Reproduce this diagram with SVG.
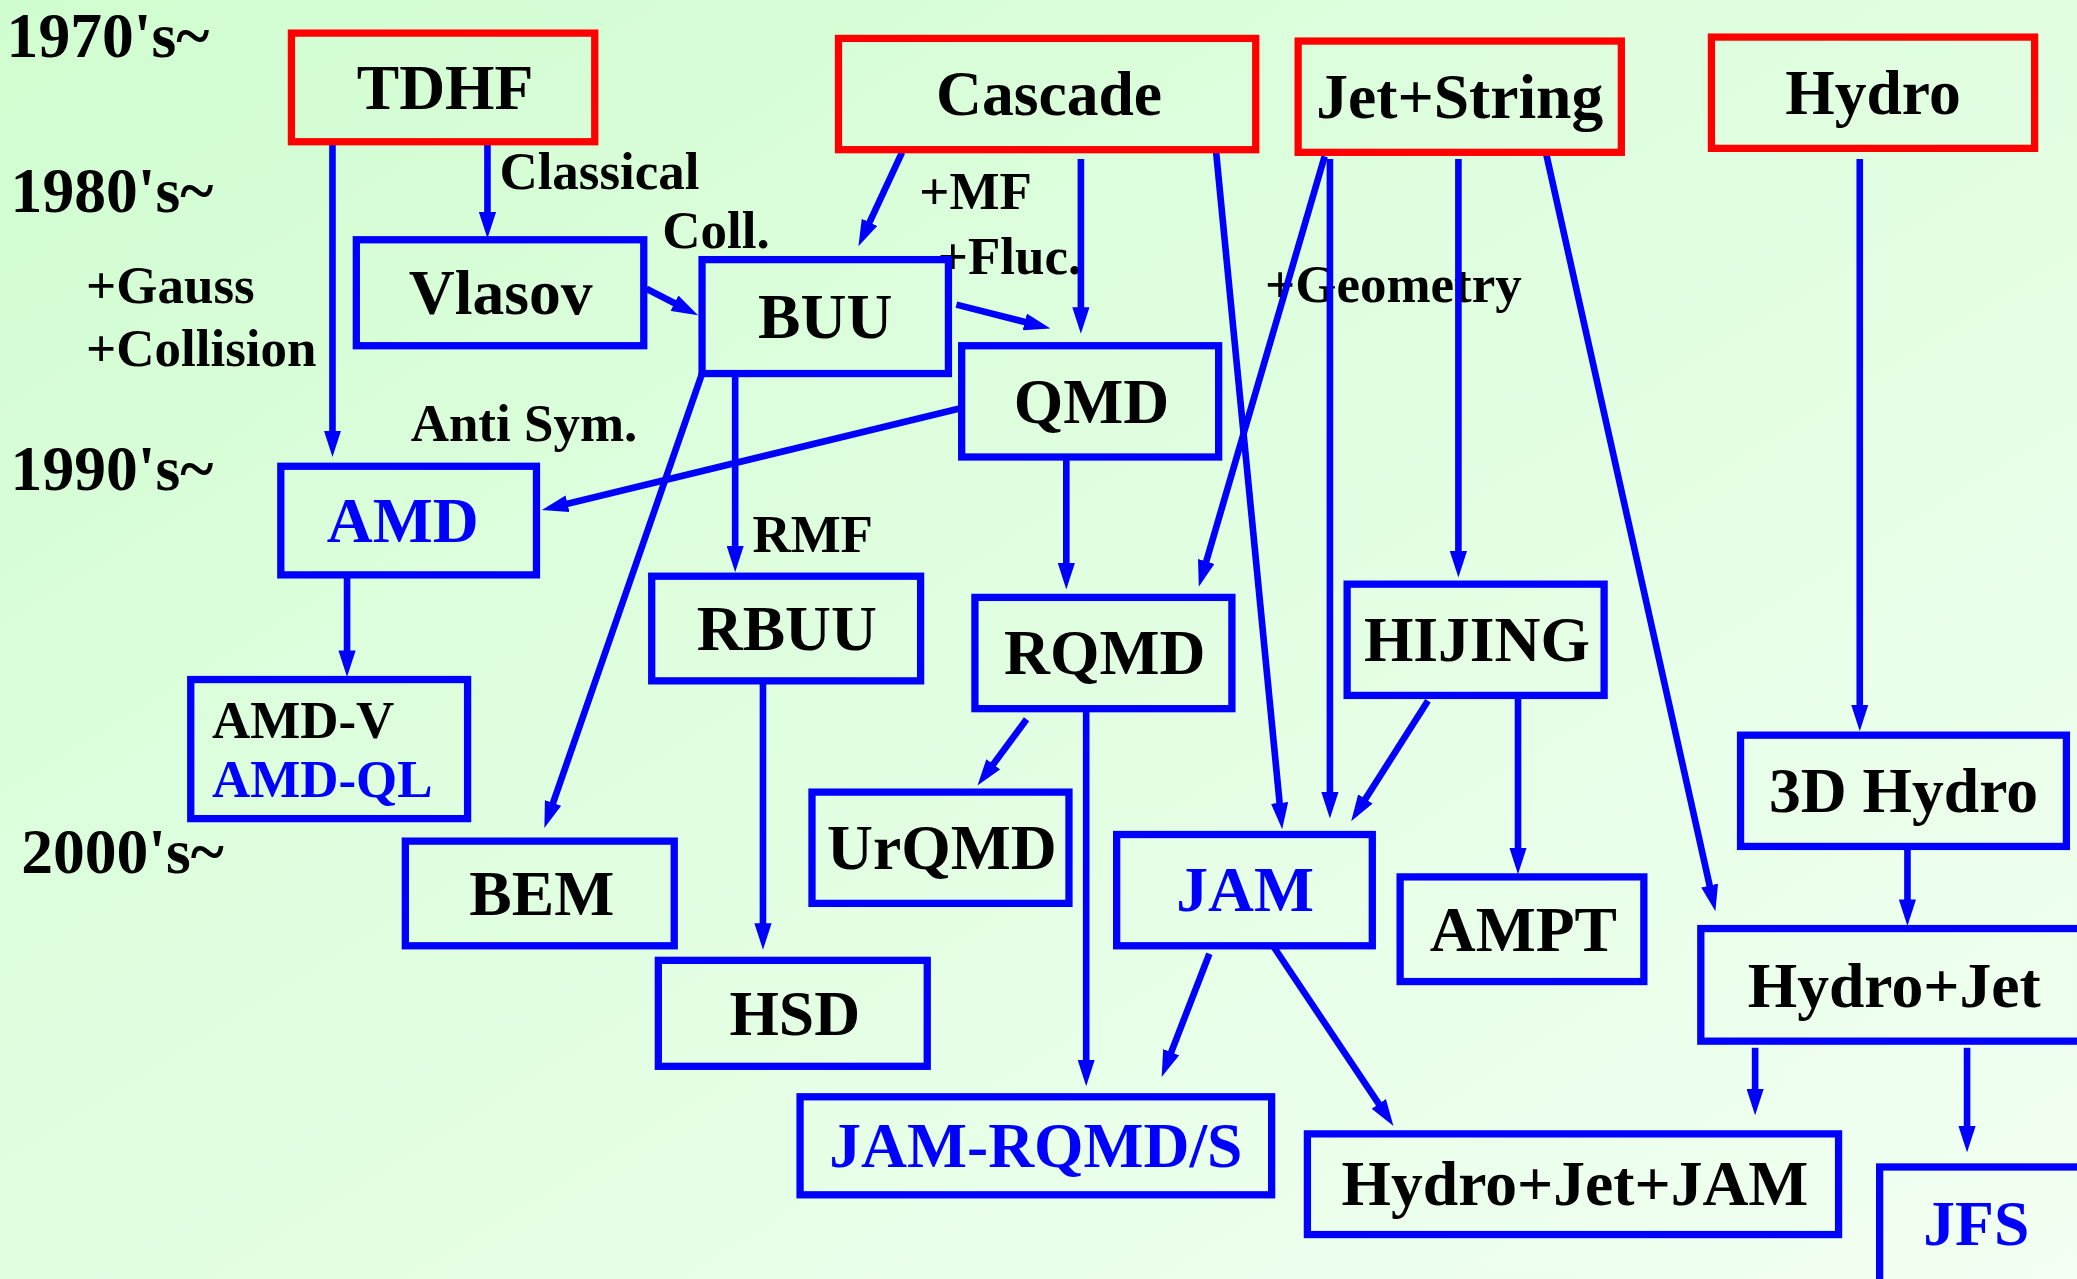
<svg xmlns="http://www.w3.org/2000/svg" width="2077" height="1279" viewBox="0 0 2077 1279">
<defs>
<linearGradient id="bg" x1="0" y1="0" x2="1" y2="1">
<stop offset="0" stop-color="#d0fdd0"/>
<stop offset="1" stop-color="#f2fff2"/>
</linearGradient>
<marker id="ah" markerUnits="userSpaceOnUse" markerWidth="20" markerHeight="13" refX="8" refY="6.5" orient="auto" viewBox="0 0 20 13">
<path d="M0,0 L20,6.5 L0,13 z" fill="#0000ff"/>
</marker>
<style>
.nr{fill:none;stroke:#ff0000;stroke-width:5.5}
.nb{fill:none;stroke:#0000ff;stroke-width:5.5}
.t{font-family:"Liberation Serif","Times New Roman",serif;font-weight:bold;font-size:48px;text-anchor:middle;fill:#000000}
.tb{fill:#0000ff}
.lab{font-size:40px;text-anchor:start}
.yr{font-size:48px;text-anchor:start}
.c{stroke:#0000ff;stroke-width:5;fill:none;marker-end:url(#ah)}
</style>
</defs>
<rect x="0" y="0" width="2077" height="1279" fill="url(#bg)"/>
<g transform="scale(1.32462)">
<g id="years">
<text class="t yr" x="5" y="43">1970's~</text>
<text class="t yr" x="8" y="160">1980's~</text>
<text class="t yr" x="8" y="370">1990's~</text>
<text class="t yr" x="16" y="659">2000's~</text>
</g>
<g id="labels">
<text class="t lab" x="377" y="143">Classical</text>
<text class="t lab" x="500" y="187">Coll.</text>
<text class="t lab" x="694" y="158">+MF</text>
<text class="t lab" x="708" y="207">+Fluc.</text>
<text class="t lab" x="65" y="229">+Gauss</text>
<text class="t lab" x="65" y="276">+Collision</text>
<text class="t lab" x="310" y="333">Anti Sym.</text>
<text class="t lab" x="568" y="417">RMF</text>
<text class="t lab" x="955" y="228">+Geometry</text>
</g>
<g id="connectors">
<line class="c" x1="251" y1="108" x2="251" y2="333"/>
<line class="c" x1="368" y1="108" x2="368" y2="168"/>
<line class="c" x1="488" y1="218" x2="516.3" y2="232.5"/>
<line class="c" x1="681" y1="115" x2="653.1" y2="175.1"/>
<line class="c" x1="816" y1="120" x2="816" y2="240"/>
<line class="c" x1="722" y1="230" x2="781.4" y2="245"/>
<line class="c" x1="918" y1="114" x2="966.8" y2="614.1"/>
<line class="c" x1="1000" y1="118" x2="908.4" y2="431.5"/>
<line class="c" x1="1004" y1="120" x2="1004" y2="606"/>
<line class="c" x1="1101" y1="120" x2="1101" y2="424"/>
<line class="c" x1="1167" y1="115" x2="1292.4" y2="676.3"/>
<line class="c" x1="1404" y1="120" x2="1404" y2="540"/>
<line class="c" x1="726" y1="308" x2="420.7" y2="382.2"/>
<line class="c" x1="530" y1="282" x2="414.9" y2="613.7"/>
<line class="c" x1="555" y1="282" x2="555" y2="420"/>
<line class="c" x1="805" y1="345" x2="805" y2="433"/>
<line class="c" x1="262" y1="434" x2="262" y2="499"/>
<line class="c" x1="775" y1="543" x2="745.1" y2="583.4"/>
<line class="c" x1="820" y1="535" x2="820" y2="808"/>
<line class="c" x1="576" y1="514" x2="576" y2="705"/>
<line class="c" x1="1078" y1="529" x2="1026.5" y2="609.9"/>
<line class="c" x1="1146" y1="525" x2="1146" y2="648"/>
<line class="c" x1="913" y1="720" x2="881.3" y2="801.8"/>
<line class="c" x1="961" y1="714" x2="1045.3" y2="840"/>
<line class="c" x1="1440" y1="639" x2="1440" y2="687"/>
<line class="c" x1="1325" y1="791" x2="1325" y2="830"/>
<line class="c" x1="1485" y1="791" x2="1485" y2="858"/>
</g>
<g id="TDHF"><rect class="nr" x="220" y="25" width="229" height="82"/><text class="t" x="336" y="82">TDHF</text></g>
<g id="Cascade"><rect class="nr" x="633" y="29" width="315" height="84"/><text class="t" x="792" y="87">Cascade</text></g>
<g id="JetString"><rect class="nr" x="980" y="31" width="244" height="84"/><text class="t" x="1102" y="89">Jet+String</text></g>
<g id="Hydro"><rect class="nr" x="1292" y="28" width="244" height="84"/><text class="t" x="1414" y="86">Hydro</text></g>
<g id="Vlasov"><rect class="nb" x="269" y="181" width="217" height="80"/><text class="t" x="378" y="237">Vlasov</text></g>
<g id="BUU"><rect class="nb" x="530" y="196" width="186" height="86"/><text class="t" x="623" y="255">BUU</text></g>
<g id="QMD"><rect class="nb" x="726" y="261" width="194" height="84"/><text class="t" x="824" y="319">QMD</text></g>
<g id="AMD"><rect class="nb" x="212" y="352" width="193" height="82"/><text class="t tb" x="304" y="409">AMD</text></g>
<g id="AMDV"><rect class="nb" x="144" y="513" width="209" height="105"/><text class="t lab" x="160" y="557">AMD-V</text><text class="t lab tb" x="160" y="602">AMD-QL</text></g>
<g id="RBUU"><rect class="nb" x="492" y="435" width="203" height="79"/><text class="t" x="594" y="491">RBUU</text></g>
<g id="RQMD"><rect class="nb" x="736" y="451" width="194" height="84"/><text class="t" x="834" y="509">RQMD</text></g>
<g id="HIJING"><rect class="nb" x="1017" y="441" width="194" height="84"/><text class="t" x="1115" y="499">HIJING</text></g>
<g id="UrQMD"><rect class="nb" x="613" y="598" width="194" height="84"/><text class="t" x="711" y="656">UrQMD</text></g>
<g id="BEM"><rect class="nb" x="306" y="635" width="203" height="79"/><text class="t" x="409" y="691">BEM</text></g>
<g id="JAM"><rect class="nb" x="843" y="630" width="193" height="84"/><text class="t tb" x="940" y="688">JAM</text></g>
<g id="AMPT"><rect class="nb" x="1057" y="662" width="184" height="79"/><text class="t" x="1150" y="718">AMPT</text></g>
<g id="Hydro3D"><rect class="nb" x="1314" y="555" width="246" height="84"/><text class="t" x="1437" y="613">3D Hydro</text></g>
<g id="HydroJet"><rect class="nb" x="1284" y="701" width="295" height="85"/><text class="t" x="1430" y="760">Hydro+Jet</text></g>
<g id="HSD"><rect class="nb" x="497" y="725" width="203" height="80"/><text class="t" x="600" y="781">HSD</text></g>
<g id="JAMRQMDS"><rect class="nb" x="604" y="828" width="356" height="74"/><text class="t tb" x="782" y="881">JAM-RQMD/S</text></g>
<g id="HydroJetJAM"><rect class="nb" x="987" y="856" width="401" height="76"/><text class="t" x="1189" y="910">Hydro+Jet+JAM</text></g>
<g id="JFS"><rect class="nb" x="1419" y="881" width="160" height="100"/><text class="t tb" x="1492" y="940">JFS</text></g>
</g>
</svg>
